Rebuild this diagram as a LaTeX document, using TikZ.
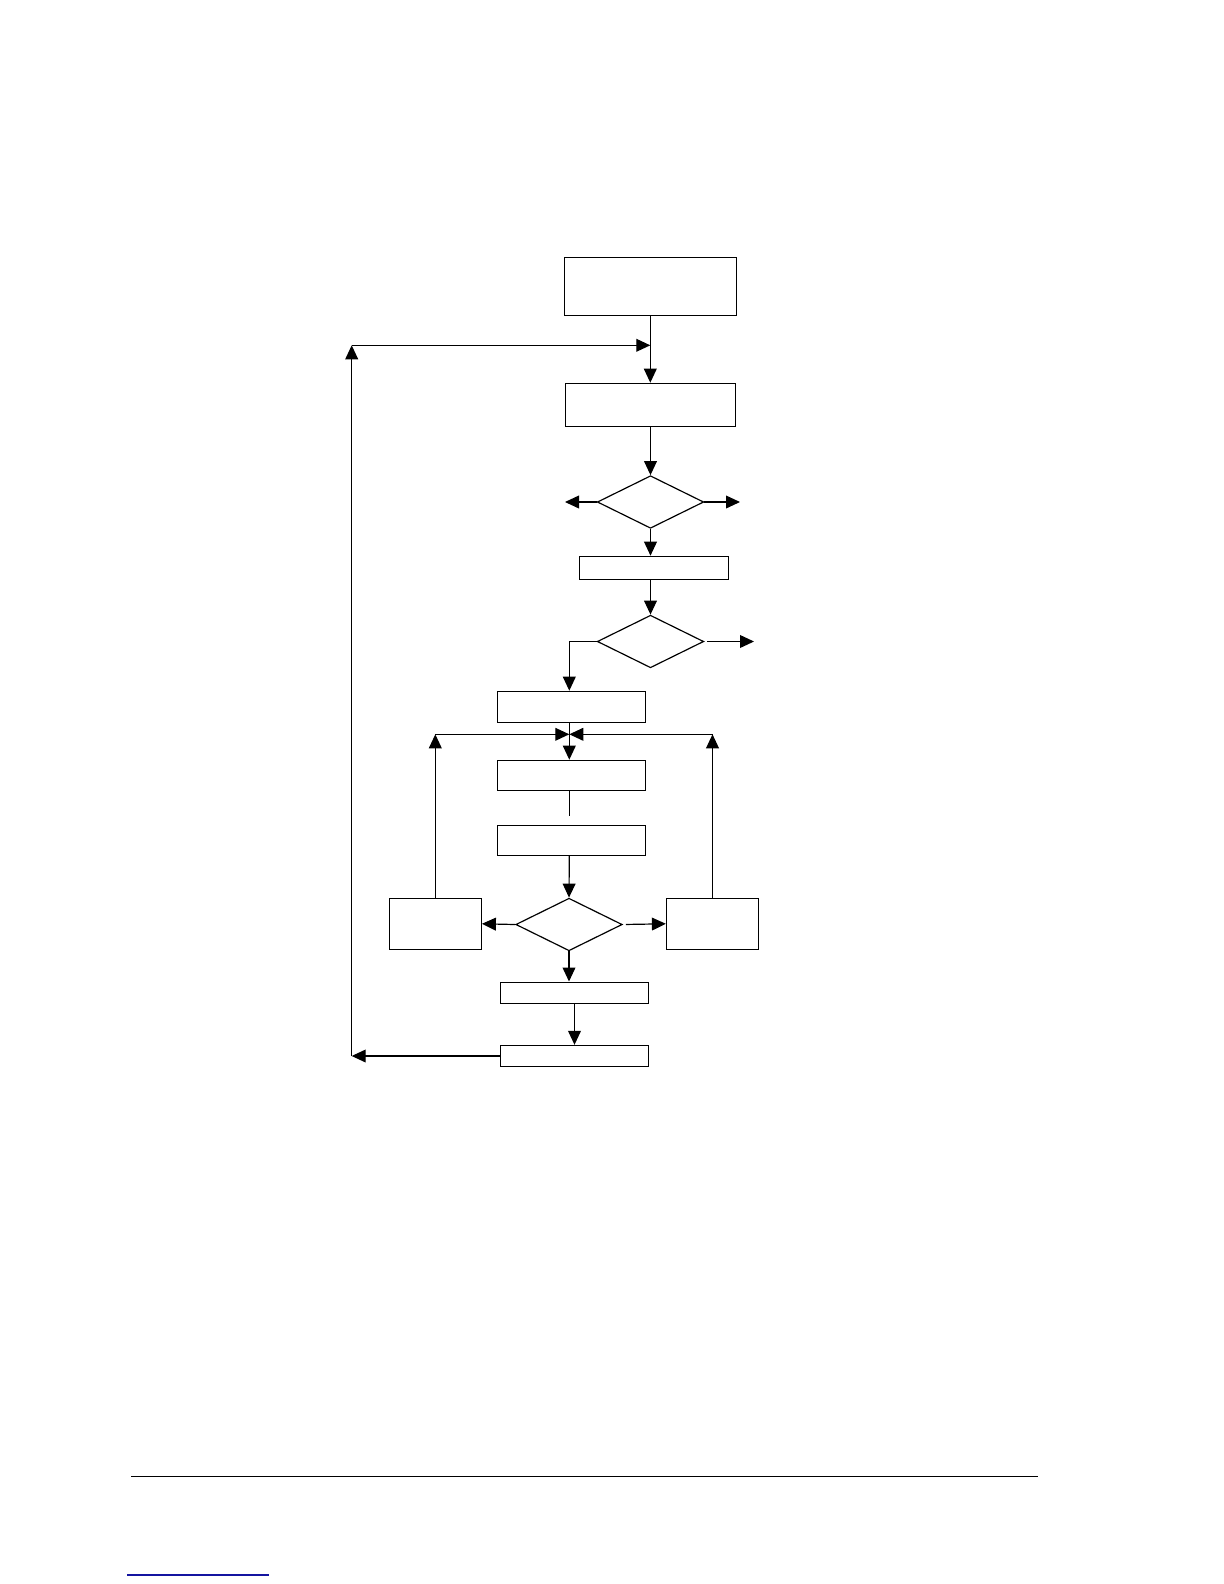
\documentclass[tikz,border=0pt]{standalone}
\usepackage{tikz}
\usetikzlibrary{shapes.geometric,arrows.meta,positioning,calc}
\definecolor{linkblue}{RGB}{20,20,160}

\begin{document}
\begin{tikzpicture}[x=0.5bp, y=-0.5bp, line width=0.6pt,
    >={Triangle[length=7bp,width=6.4bp]},
    blk/.style={draw, inner sep=0pt, minimum width=74.2bp, minimum height=15bp},
    dec/.style={draw, diamond, inner sep=0pt, minimum width=53.2bp, minimum height=26.3bp}]
  \useasboundingbox (0,0) rectangle (1224,1584);

  % Main column
  \node[blk, minimum width=86bp, minimum height=29bp] (start) at (650.3,286.3) {};
  \coordinate (join) at (650.3,345.3);
  \node[blk, minimum width=85bp, minimum height=21.5bp] (init) at (650.5,404.8) {};
  \node[dec] (dec1) at (650.5,502) {};
  \coordinate (d1l) at (565,502);
  \coordinate (d1r) at (740,502);
  \node[blk, minimum width=74.7bp, minimum height=11.5bp] (box3) at (654,567.8) {};
  \node[dec] (dec2) at (650.5,641.5) {};
  \coordinate (d2r) at (754,641.5);

  % Inner loop
  \node[blk, minimum height=15.5bp] (box4) at (571.5,706.8) {};
  \coordinate (join2) at (569.3,734.3);
  \node[blk] (box5) at (571.5,775.3) {};
  \coordinate (gap) at (569.3,815.7);
  \node[blk] (box6) at (571.5,840.3) {};
  \node[dec] (dec3) at (569,924.5) {};
  \node[blk, minimum width=46bp, minimum height=25.5bp] (left) at (435.3,923.8) {};
  \node[blk, minimum width=46bp, minimum height=25.5bp] (right) at (712.5,923.8) {};
  \coordinate (lup) at (435.3,734.3);
  \coordinate (rup) at (712.5,734.3);
  \node[blk, minimum height=10.6bp] (box7) at (574.5,992.7) {};
  \node[blk, minimum height=10.6bp] (box8) at (574.5,1056) {};

  % Outer loop
  \coordinate (back) at (351.7,1056);
  \coordinate (top) at (351.7,345.3);

  \draw[->] (start.south) -- (start.south |- init.north);
  \draw[->] (top) -- (join);
  \draw[->] (init) -- (dec1);
  \draw[->] (dec1.west) -- (d1l);
  \draw[->] (dec1.east) -- (d1r);
  \draw[->] (dec1.south) -- (dec1.south |- box3.north);
  \draw[->] (dec1.south |- box3.south) -- (dec2.north);
  \draw[->, shorten <=1.5bp] (dec2.east) -- (d2r);
  \draw[->] (dec2.west) -| (box4.north -| join2);
  \draw[->] (box4.south -| join2) -- (box5.north -| join2);
  \draw (box5.south -| gap) -- (gap);
  \draw[->] (box6.south -| join2) -- (dec3.north);
  \draw[->] (dec3.west) -- (left.east);
  \draw[->, shorten <=1.5bp] (dec3.east) -- (right.west);
  \draw[->] (left.north) -- (lup);
  \draw[->] (lup) -- (join2);
  \draw[->] (right.north) -- (rup);
  \draw[->] (rup) -- (join2);
  \draw[->] (dec3.south) -- (dec3.south |- box7.north);
  \draw[->] (box7) -- (box8);
  \draw[->] (box8.west) -- (back);
  \draw[->] (back) -- (top);

  % Page footer
  \draw[line width=0.7pt] (131,1476.7) -- (1038,1476.7);
  \draw[linkblue, line width=0.6pt] (127,1575) -- (269,1575);
\end{tikzpicture}
\end{document}
